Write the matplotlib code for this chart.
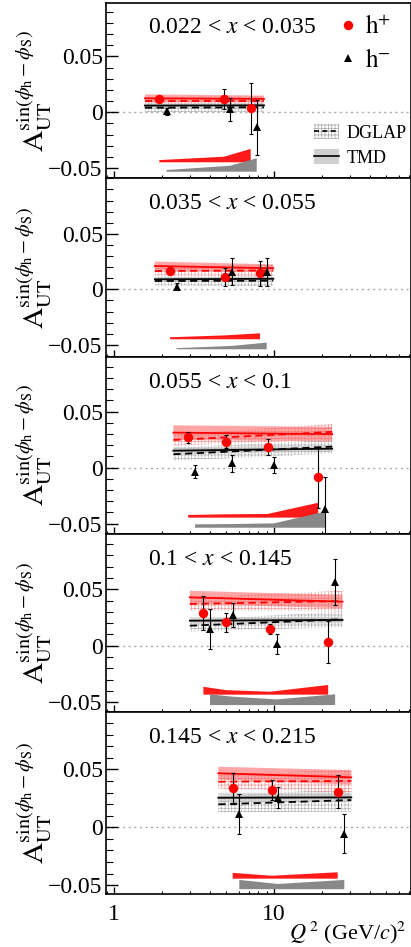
import numpy as np
import matplotlib
matplotlib.use('Agg')
import matplotlib.pyplot as plt
from matplotlib.lines import Line2D
from matplotlib.patches import Patch
from matplotlib.legend_handler import HandlerTuple
from matplotlib.ticker import FixedLocator, FixedFormatter, LogLocator, NullFormatter, MultipleLocator

plt.rcParams['font.family'] = ['Liberation Serif', 'DejaVu Serif']
plt.rcParams['mathtext.fontset'] = 'stix'
plt.rcParams['hatch.linewidth'] = 0.5

# ---------------- data ----------------
x_bins = ['0.022 < $x$ < 0.035', '0.035 < $x$ < 0.055', '0.055 < $x$ < 0.1',
          '0.1 < $x$ < 0.145', '0.145 < $x$ < 0.215']

# h+ points
pos_q2 = [[1.92, 4.87, 7.15], [2.24, 4.94, 8.18], [2.91, 4.99, 9.13, 18.9],
          [3.62, 5.01, 9.44, 21.8], [5.52, 9.67, 25.0]]
pos_val = [[0.0116, 0.0119, 0.0036], [0.0168, 0.0111, 0.0144], [0.0271, 0.0232, 0.0182, -0.0086],
           [0.0287, 0.0207, 0.0148, 0.0035], [0.0336, 0.0322, 0.0307]]
pos_err = [[0.002, 0.009, 0.023], [0.003, 0.008, 0.011], [0.005, 0.006, 0.007, 0.027],
           [0.015, 0.0085, 0.0048, 0.0187], [0.0136, 0.0089, 0.014]]
pos_sys = [[0.002, 0.005, 0.012], [0.0018, 0.0035, 0.0054], [0.0024, 0.003, 0.0033, 0.0133],
           [0.007, 0.004, 0.0026, 0.0086], [0.005, 0.0025, 0.0055]]

# h- points
neg_q2 = [[2.13, 5.31, 7.8], [2.46, 5.44, 9.0], [3.21, 5.49, 10.0, 20.8],
          [3.98, 5.52, 10.4, 24.1], [6.07, 10.6, 27.5]]
neg_val = [[0.001, 0.0027, -0.0135], [0.0024, 0.016, 0.0155], [-0.0036, 0.0039, 0.0024, -0.0372],
           [0.0147, 0.0272, 0.0012, 0.0564], [0.0113, 0.0255, -0.0054]]
neg_err = [[0.003, 0.0105, 0.0245], [0.003, 0.012, 0.0125], [0.006, 0.0073, 0.0075, 0.029],
           [0.018, 0.0103, 0.0089, 0.0204], [0.017, 0.0089, 0.0165]]
neg_sys = [[0.0015, 0.0053, 0.012], [0.001, 0.003, 0.006], [0.003, 0.0033, 0.0039, 0.0143],
           [0.0095, 0.0074, 0.005, 0.0095], [0.008, 0.0045, 0.008]]

# theory curves (values at band start / end)
band_q2 = [(1.56, 8.66), (1.80, 9.9), (2.35, 23.1), (2.98, 26.8), (4.49, 30.4)]
tmd_pos_c = [(0.0125, 0.012), (0.021, 0.019), (0.0313, 0.030), (0.0429, 0.039), (0.0466, 0.0431)]
tmd_pos_w = [(0.0035, 0.003), (0.004, 0.0035), (0.0065, 0.0065), (0.0058, 0.0058), (0.0056, 0.0062)]
dglap_pos_c = [(0.0104, 0.0104), (0.0165, 0.017), (0.0247, 0.032), (0.037, 0.0396), (0.0393, 0.040)]
dglap_pos_w = [(0.003, 0.004), (0.004, 0.005), (0.005, 0.007), (0.006, 0.009), (0.006, 0.010)]
tmd_neg_c = [(0.006, 0.0062), (0.009, 0.0095), (0.0152, 0.017), (0.0222, 0.0228), (0.0255, 0.0258)]
tmd_neg_w = [(0.002, 0.002), (0.002, 0.002), (0.003, 0.003), (0.003, 0.003), (0.0043, 0.004)]
dglap_neg_c = [(0.0041, 0.0045), (0.0075, 0.0078), (0.012, 0.0188), (0.0177, 0.0234), (0.0198, 0.0235)]
dglap_neg_w = [(0.004, 0.004), (0.004, 0.005), (0.006, 0.006), (0.005, 0.007), (0.007, 0.010)]

# ---------------- layout ----------------
W, H = 411, 947
fig = plt.figure(figsize=(W / 100, H / 100), dpi=100)
left_px, right_px = 105.5, 410.5
tops = [2.7, 178.3, 356.7, 534.0, 711.7]
bots = [178.3, 356.7, 534.0, 711.7, 894.3]
ylims = [(-0.059, 0.098), (-0.0607, 0.100), (-0.0592, 0.0991), (-0.0585, 0.099), (-0.0578, 0.0997)]
sys_base_pos = [-0.0447, -0.045, -0.0446, -0.0434, -0.0443]
sys_base_neg = [-0.0531, -0.054, -0.0536, -0.0526, -0.0534]
xlim = (0.885, 71.3)

RED = '#ff0000'
RED_BAND = '#ff6a6a'
RED_HATCH = '#f29a9a'
GRAY_BAND = '#c0c0c0'
GRAY_HATCH = '#b4b4b4'
SYS_RED = '#ff1a1a'
SYS_GRAY = '#888888'

ylabel = r'$\mathrm{A}_{\mathrm{UT}}^{\sin(\phi_{\mathrm{h}}-\phi_{\mathrm{S}})}$'

for i in range(5):
    ax = fig.add_axes([left_px / W, 1 - bots[i] / H, (right_px - left_px) / W, (bots[i] - tops[i]) / H])
    ax.set_xscale('log')
    ax.set_xlim(*xlim)
    ax.set_ylim(*ylims[i])

    # zero line
    ax.axhline(0, color='#aaaaaa', lw=1.0, ls=(0, (1.5, 2.5)), zorder=1)

    q = np.array(band_q2[i])
    # DGLAP hatched bands
    for c, w, col in [(dglap_neg_c[i], dglap_neg_w[i], GRAY_HATCH), (dglap_pos_c[i], dglap_pos_w[i], RED_HATCH)]:
        c = np.array(c); w = np.array(w)
        ax.fill_between(q, c - w, c + w, facecolor='none', edgecolor=col, hatch='+++++', lw=0, zorder=2)
    # TMD bands
    for c, w, col, a in [(tmd_neg_c[i], tmd_neg_w[i], GRAY_BAND, 0.6), (tmd_pos_c[i], tmd_pos_w[i], RED_BAND, 0.6)]:
        c = np.array(c); w = np.array(w)
        ax.fill_between(q, c - w, c + w, facecolor=col, alpha=a, lw=0, zorder=3)
    # curves
    ax.plot(q, tmd_neg_c[i], color='k', lw=1.3, zorder=4)
    ax.plot(q, dglap_neg_c[i], color='k', lw=1.3, ls=(0, (4, 2.5)), zorder=4)
    ax.plot(q, tmd_pos_c[i], color=RED, lw=1.3, zorder=4)
    ax.plot(q, dglap_pos_c[i], color=RED, lw=1.3, ls=(0, (4, 2.5)), zorder=4)

    # systematic bands
    ps = np.array(pos_sys[i]); ns = np.array(neg_sys[i])
    ax.fill_between(pos_q2[i], sys_base_pos[i], sys_base_pos[i] + ps, facecolor=SYS_RED, lw=0, zorder=3)
    ax.fill_between(neg_q2[i], sys_base_neg[i], sys_base_neg[i] + ns, facecolor=SYS_GRAY, lw=0, zorder=3)

    # data points
    ax.errorbar(pos_q2[i], pos_val[i], yerr=pos_err[i], fmt='none', ecolor='k', elinewidth=0.8,
                capsize=1.6, capthick=0.8, zorder=5)
    ax.plot(pos_q2[i], pos_val[i], 'o', color=RED, ms=6.8, mew=0, zorder=6)
    ax.errorbar(neg_q2[i], neg_val[i], yerr=neg_err[i], fmt='none', ecolor='k', elinewidth=0.8,
                capsize=1.6, capthick=0.8, zorder=5)
    ax.plot(neg_q2[i], neg_val[i], '^', color='k', ms=6.3, mew=0, zorder=6)

    # bin text
    ax.text(0.139, 0.857, x_bins[i], transform=ax.transAxes, ha='left', va='center', fontsize=17)

    # axes styling
    for s in ax.spines.values():
        s.set_linewidth(1.2)
    ax.yaxis.set_major_locator(FixedLocator([-0.05, 0.0, 0.05]))
    ax.yaxis.set_major_formatter(FixedFormatter(['\u22120.05', '0', '0.05']))
    ax.yaxis.set_minor_locator(MultipleLocator(0.01))
    ax.xaxis.set_minor_locator(LogLocator(base=10, subs=np.arange(2, 10), numticks=20))
    ax.xaxis.set_minor_formatter(NullFormatter())
    ax.set_xticks([1, 10])
    ax.tick_params(axis='y', which='major', direction='in', length=8.4, width=1.0, labelsize=17, pad=2,
                   left=True, right=False)
    ax.tick_params(axis='y', which='minor', direction='in', length=4.8, width=0.8, left=True, right=False)
    ax.tick_params(axis='x', which='major', direction='in', length=4.8, width=1.0, labelsize=17, pad=7,
                   bottom=True, top=False)
    ax.tick_params(axis='x', which='minor', direction='in', length=2.4, width=0.8, bottom=True, top=False)
    if i < 4:
        ax.tick_params(axis='x', labelbottom=False)
    else:
        ax.set_xticklabels(['1', '10'])

    ax.set_ylabel(ylabel, fontsize=21)
    ax.yaxis.set_label_coords(-0.168, 0.5)

    if i == 0:
        h1 = Line2D([], [], marker='o', color=RED, ls='none', ms=6.8, mew=0)
        h2 = Line2D([], [], marker='^', color='k', ls='none', ms=6.3, mew=0)
        leg1 = ax.legend([h1, h2], [r'$\mathrm{h}^{+}$', r'$\mathrm{h}^{-}$'], loc='upper left',
                         bbox_to_anchor=(0.77, 0.925), frameon=False, fontsize=18, handlelength=0.6,
                         handletextpad=0.4, labelspacing=0.4, borderpad=0, borderaxespad=0)
        ax.add_artist(leg1)
        d_h = (Patch(facecolor='none', edgecolor='#a8a8a8', hatch='+++++', lw=0),
               Line2D([], [], color='k', lw=1.2, ls=(0, (3, 2))))
        t_h = (Patch(facecolor='#d0d0d0', edgecolor='none'), Line2D([], [], color='k', lw=1.2))
        ax.legend([d_h, t_h], ['DGLAP', 'TMD'], handler_map={tuple: HandlerTuple(ndivide=1, pad=0)},
                  loc='upper left', bbox_to_anchor=(0.685, 0.31), frameon=False, fontsize=13,
                  handlelength=1.35, handleheight=0.9, handletextpad=0.45, labelspacing=0.4,
                  borderpad=0, borderaxespad=0)

fig.text(406 / W, 1 - 939 / H, r'$Q^{\,2}$ (GeV/$c$)$^{2}$', ha='right', va='baseline', fontsize=16)

fig.savefig('out.png', dpi=100)
